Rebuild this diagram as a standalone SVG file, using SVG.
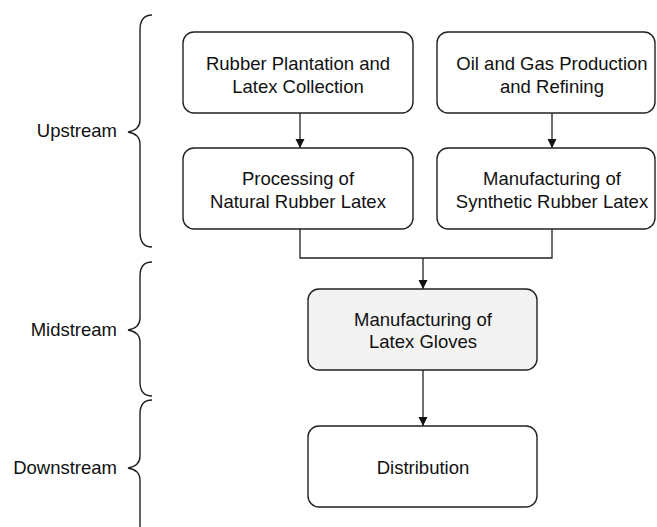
<svg xmlns="http://www.w3.org/2000/svg" width="657" height="527" viewBox="0 0 657 527">
<style>
.box{fill:#fff;stroke:#222;stroke-width:1.4}
.mid{fill:#f3f3f3}
text{font-family:"Liberation Sans",Arial,sans-serif;font-size:18.5px;fill:#111;text-anchor:middle}
.lbl{text-anchor:end}
.line{fill:none;stroke:#222;stroke-width:1.3}
.brace{fill:none;stroke:#222;stroke-width:1.4}
</style>
<defs>
<marker id="ah" viewBox="0 0 10 10" refX="10" refY="5" markerWidth="9" markerHeight="10" markerUnits="userSpaceOnUse" orient="auto">
<path d="M0,0 L10,5 L0,10 Z" fill="#111"/>
</marker>
</defs>
<g id="labels">
<g id="upstream"><text class="lbl" x="117" y="137">Upstream</text><path class="brace" d="M152,15 Q140,15 140,30 L140,120 Q140,130 128,132 Q140,134 140,144 L140,232 Q140,247 152,247"/></g>
<g id="midstream"><text class="lbl" x="117" y="336">Midstream</text><path class="brace" d="M152,262 Q140,262 140,276 L140,318 Q140,328 128,330 Q140,332 140,342 L140,382 Q140,396 152,396"/></g>
<g id="downstream"><text class="lbl" x="117" y="474">Downstream</text><path class="brace" d="M152,400 Q140,400 140,414 L140,456 Q140,466 128,468 Q140,470 140,480 L140,527"/></g>
</g>
<g id="connectors">
<line class="line" x1="300" y1="113" x2="300" y2="148" marker-end="url(#ah)"/>
<line class="line" x1="552" y1="113" x2="552" y2="148" marker-end="url(#ah)"/>
<polyline class="line" points="300,229 300,258 552,258 552,229"/>
<line class="line" x1="423" y1="258" x2="423" y2="289" marker-end="url(#ah)"/>
<line class="line" x1="423" y1="370" x2="423" y2="426" marker-end="url(#ah)"/>
</g>
<g id="n1"><rect class="box" x="183" y="32" width="230" height="81" rx="11"/><text x="298" y="70">Rubber Plantation and</text><text x="298" y="93">Latex Collection</text></g>
<g id="n2"><rect class="box" x="437" y="32" width="218" height="81" rx="11"/><text x="552" y="70">Oil and Gas Production</text><text x="552" y="93">and Refining</text></g>
<g id="n3"><rect class="box" x="183" y="148" width="230" height="81" rx="11"/><text x="298" y="185">Processing of</text><text x="298" y="208">Natural Rubber Latex</text></g>
<g id="n4"><rect class="box" x="437" y="148" width="218" height="81" rx="11"/><text x="552" y="185">Manufacturing of</text><text x="552" y="208">Synthetic Rubber Latex</text></g>
<g id="n5"><rect class="box mid" x="308" y="289" width="229" height="81" rx="11"/><text x="423" y="326">Manufacturing of</text><text x="423" y="348">Latex Gloves</text></g>
<g id="n6"><rect class="box" x="308" y="426" width="229" height="81" rx="11"/><text x="423" y="474">Distribution</text></g>
</svg>
